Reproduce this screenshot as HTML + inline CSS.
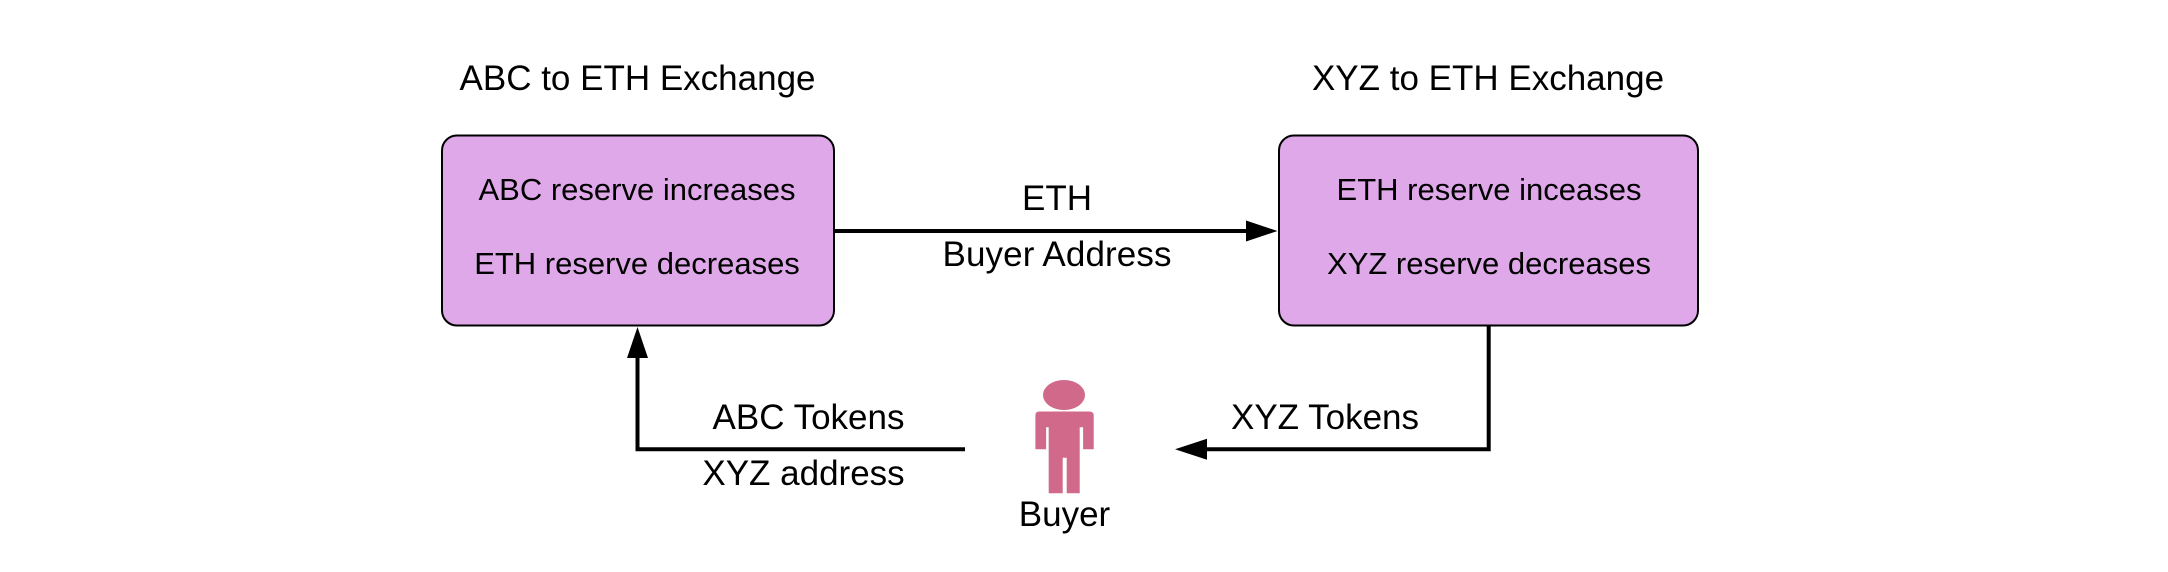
<!DOCTYPE html>
<html>
<head>
<meta charset="utf-8">
<style>
html,body{margin:0;padding:0;background:#fff;width:2168px;height:572px;overflow:hidden}
svg{display:block}
text{font-family:"Liberation Sans",sans-serif;fill:#000;text-anchor:middle}
.a{font-size:35px}
.b{font-size:31px}
</style>
</head>
<body>
<svg width="2168" height="572" viewBox="0 0 2168 572" xmlns="http://www.w3.org/2000/svg">
<rect x="0" y="0" width="2168" height="572" fill="#fff"/>
<rect x="442" y="135.500" width="392" height="190" rx="15" ry="15" fill="#dfa9e9" stroke="#000" stroke-width="2"/>
<rect x="1279" y="135.500" width="419" height="190" rx="15" ry="15" fill="#dfa9e9" stroke="#000" stroke-width="2"/>

<path d="M834 231H1248" fill="none" stroke="#000" stroke-width="4"/>
<polygon points="1277.500,231 1246,220.500 1246,241.500" fill="#000"/>
<path d="M1488.700 326V449.300H1205" fill="none" stroke="#000" stroke-width="4"/>
<polygon points="1175,449.300 1207,438.800 1207,459.800" fill="#000"/>
<path d="M965 449.300H637.500V356" fill="none" stroke="#000" stroke-width="4"/>
<polygon points="637.500,327 627,358 648,358" fill="#000"/>

<ellipse cx="1064" cy="395" rx="21" ry="15" fill="#d0698a"/>
<path d="M1039 411.500H1089Q1093.300 411.500 1093.300 415.500V449.300H1082.700V427.300H1079.300V493.300H1066.300V457.700H1062.300V493.300H1048.300V427.300H1045.700V449.300H1035V415.500Q1035 411.500 1039 411.500Z" fill="#d0698a" transform="translate(0.400 0)"/>

<text class="a" x="637.500" y="90">ABC to ETH Exchange</text>
<text class="a" x="1488" y="90">XYZ to ETH Exchange</text>
<text class="b" x="637" y="200">ABC reserve increases</text>
<text class="b" x="637" y="274">ETH reserve decreases</text>
<text class="b" x="1489" y="200">ETH reserve inceases</text>
<text class="b" x="1489" y="274">XYZ reserve decreases</text>
<text class="a" x="1057" y="210">ETH</text>
<text class="a" x="1057" y="266" textLength="229" lengthAdjust="spacing">Buyer Address</text>
<text class="a" x="808.500" y="429">ABC Tokens</text>
<text class="a" x="803.500" y="485">XYZ address</text>
<text class="a" x="1325" y="429">XYZ Tokens</text>
<text class="a" x="1064.500" y="526">Buyer</text>
</svg>
</body>
</html>
